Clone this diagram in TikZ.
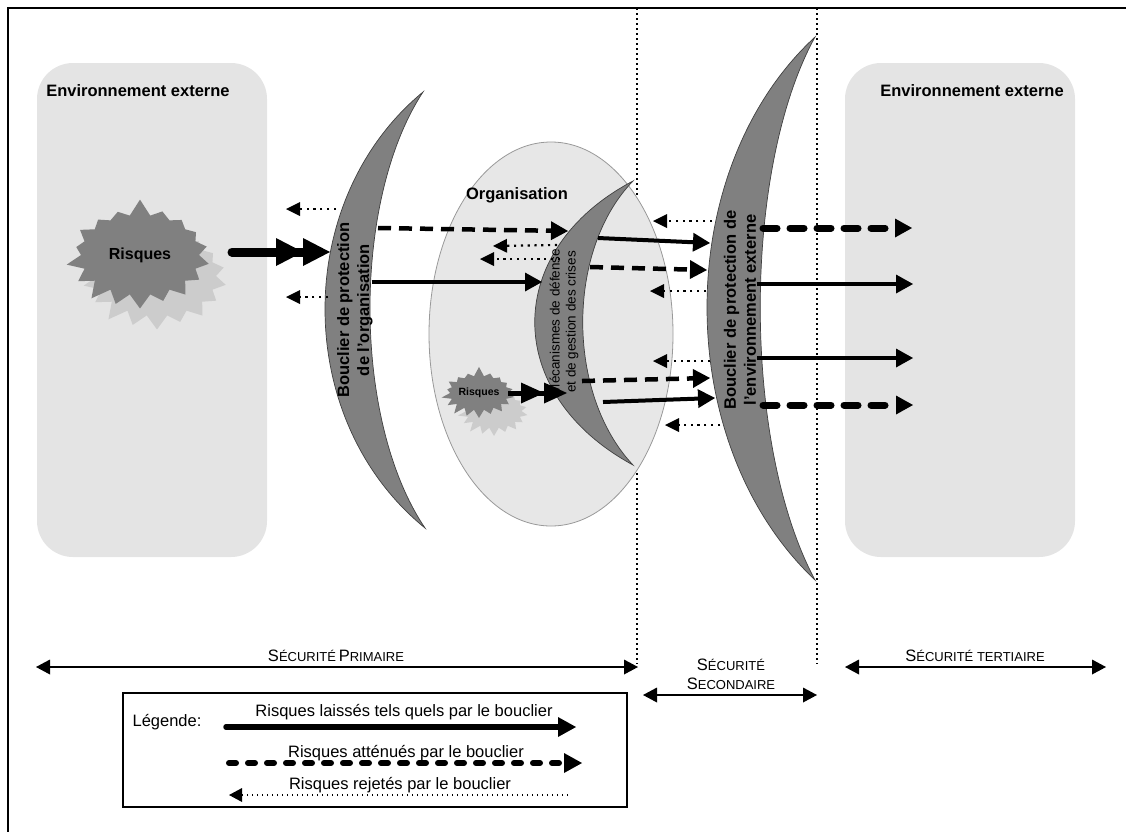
\documentclass[tikz,border=0pt]{standalone}
\usepackage{fontspec}
\setmainfont{Liberation Sans}
\usetikzlibrary{arrows.meta,shapes.symbols,shapes.geometric}

\definecolor{panelgray}{gray}{0.895}
\definecolor{orggray}{gray}{0.905}
\definecolor{shieldgray}{gray}{0.5}
\definecolor{shadowgray}{gray}{0.80}

% small capitals imitated with two sizes of the same font
\newcommand\capword[2]{{\fontsize{16.5}{19}\selectfont #1}{\fontsize{13}{15}\selectfont #2}}

\begin{document}
\begin{tikzpicture}[x=1pt,y=-1pt,
  panel/.style={fill=panelgray, rounded corners=36pt},
  shield/.style={fill=shieldgray, draw=black!75, line width=0.7pt},
  boldlbl/.style={font=\fontsize{16.5}{20}\selectfont\bfseries, inner sep=0pt, align=center},
  plainlbl/.style={font=\fontsize{16.5}{20}\selectfont, inner sep=0pt},
  zonelbl/.style={inner sep=0pt, anchor=base},
  zoneline/.style={line width=1.5pt, dash pattern=on 1.5pt off 3.5pt},
  burst/.style={starburst, starburst points=18, random starburst=7, fill=shieldgray, inner sep=0pt},
  burstshadow/.style={burst, fill=shadowgray},
  Pass/.tip={Triangle[length=17pt,width=19pt,line width=0pt]},
  Rej/.tip={Triangle[length=14pt,width=14pt,line width=0pt]},
  BigTwo/.tip={Triangle[length=27pt,width=28pt,line width=0pt] Triangle[length=27pt,width=28pt,line width=0pt]},
  MidTwo/.tip={Triangle[length=23pt,width=21pt,line width=0pt] Triangle[length=23pt,width=21pt,line width=0pt]},
  Bnd/.tip={Triangle[length=14pt,width=15pt,line width=0pt]},
  passed/.style={line width=4pt, -{Pass}},
  damped/.style={line width=4.5pt, dash pattern=on 13pt off 8pt, -{Pass}},
  dampedwide/.style={line width=7pt, line cap=round, dash pattern=on 14pt off 13pt, -{Pass}},
  rejected/.style={line width=2.2pt, dash pattern=on 2.2pt off 4.6pt, -{Rej}},
  riskflow/.style={line width=9pt, line cap=round, -{BigTwo}},
  smallflow/.style={line width=5pt, -{MidTwo}},
  span/.style={line width=2.4pt, {Bnd}-{Bnd}}
]
\useasboundingbox (0,0) rectangle (1126,831);

% page frame (left and top edges)
\draw[line width=1.3pt] (8,845) -- (8,8) -- (1140,8);

% limits between the security zones
\coordinate (lim1top) at (637,8);  \coordinate (lim1bot) at (637,664);
\coordinate (lim2top) at (817,8);  \coordinate (lim2bot) at (817,664);
\draw[zoneline] (lim1top) -- (lim1bot);
\draw[zoneline] (lim2top) -- (lim2bot);

% external environment on both sides
\fill[panel] (37,63) rectangle (267,557);
\fill[panel] (845,63) rectangle (1075,557);
\node[boldlbl, anchor=base] (envL) at (138,96) {Environnement externe};
\node[boldlbl, anchor=base] (envR) at (972,96) {Environnement externe};

% the organisation
\node[ellipse, draw=black!40, line width=0.8pt, fill=orggray,
      minimum width=244pt, minimum height=384pt, inner sep=0pt] (org) at (551,334) {};
\node[boldlbl, anchor=base] (orgLbl) at (517,199) {Organisation};

% shield of the organisation
\path[shield] (423,92) .. controls (292,200) and (292,420) .. (425,528)
              .. controls (352,420) and (352,200) .. (423,92) -- cycle;
\node[boldlbl, rotate=90] (shieldOrg) at (355,310) {Bouclier de protection\\de l'organisation};

% defence and crisis management mechanisms
\path[shield] (633,181) .. controls (502,250) and (502,394) .. (633,465)
              .. controls (566,394) and (566,250) .. (633,181) -- cycle;
\node[font=\fontsize{13.5}{16}\selectfont, inner sep=0pt, align=center, rotate=90]
      (mecha) at (564,322) {Mécanismes de défense\\et de gestion des crises};

% shield of the external environment
\path[shield] (815,37) .. controls (671,170) and (671,444) .. (815,580)
              .. controls (742,444) and (742,170) .. (815,37) -- cycle;
\node[boldlbl, rotate=90] (shieldEnv) at (740,310) {Bouclier de protection de\\l'environnement externe};

% risks
\node[burstshadow, minimum width=152pt, minimum height=114pt, starburst point height=17pt] (riskAsh) at (157,276) {};
\node[burst, minimum width=152pt, minimum height=114pt, starburst point height=17pt,
      font=\fontsize{16}{19}\selectfont\bfseries] (riskA) at (140,255) {Risques};
\node[burstshadow, minimum width=75pt, minimum height=54pt, starburst point height=10pt] (riskBsh) at (494,411) {};
\node[burst, minimum width=75pt, minimum height=54pt, starburst point height=10pt,
      font=\fontsize{10.5}{12}\selectfont\bfseries] (riskB) at (479,393) {Risques};

% end points of the flows
\coordinate (fA) at (232,252);  \coordinate (sA) at (330,252);
\coordinate (fB) at (508,393);  \coordinate (sB) at (567,393);

\coordinate (r1s) at (336,209); \coordinate (r1e) at (286,209);
\coordinate (r2s) at (328,297); \coordinate (r2e) at (286,297);
\coordinate (d1s) at (378,228); \coordinate (d1e) at (568,231);
\coordinate (p1s) at (372,282); \coordinate (p1e) at (542,282);

\coordinate (r3s) at (557,245); \coordinate (r3e) at (493,246);
\coordinate (r4s) at (560,259); \coordinate (r4e) at (480,259);
\coordinate (p2s) at (598,238); \coordinate (p2e) at (710,243);
\coordinate (d2s) at (590,267); \coordinate (d2e) at (707,270);
\coordinate (r5s) at (712,221); \coordinate (r5e) at (653,221);
\coordinate (r6s) at (706,291); \coordinate (r6e) at (650,291);
\coordinate (r7s) at (710,361); \coordinate (r7e) at (653,361);
\coordinate (d3s) at (582,381); \coordinate (d3e) at (710,378);
\coordinate (p3s) at (603,402); \coordinate (p3e) at (715,398);
\coordinate (r8s) at (720,425); \coordinate (r8e) at (665,425);

\coordinate (d4s) at (763,228); \coordinate (d4e) at (912,228);
\coordinate (p4s) at (757,284); \coordinate (p4e) at (913,284);
\coordinate (p5s) at (757,358); \coordinate (p5e) at (913,358);
\coordinate (d5s) at (763,405); \coordinate (d5e) at (913,405);

% flows
\draw[riskflow] (fA) -- (sA);
\draw[smallflow] (fB) -- (sB);

\draw[rejected] (r1s) -- (r1e);
\draw[rejected] (r2s) -- (r2e);
\draw[damped] (d1s) -- (d1e);
\draw[passed] (p1s) -- (p1e);

\draw[rejected] (r3s) -- (r3e);
\draw[rejected] (r4s) -- (r4e);
\draw[passed] (p2s) -- (p2e);
\draw[damped] (d2s) -- (d2e);
\draw[rejected] (r5s) -- (r5e);
\draw[rejected] (r6s) -- (r6e);
\draw[rejected] (r7s) -- (r7e);
\draw[damped] (d3s) -- (d3e);
\draw[passed] (p3s) -- (p3e);
\draw[rejected] (r8s) -- (r8e);

\draw[dampedwide] (d4s) -- (d4e);
\draw[passed] (p4s) -- (p4e);
\draw[passed] (p5s) -- (p5e);
\draw[dampedwide] (d5s) -- (d5e);

% security zones
\coordinate (z1a) at (36,667);  \coordinate (z1b) at (638,667);
\coordinate (z2a) at (643,695); \coordinate (z2b) at (817,695);
\coordinate (z3a) at (845,667); \coordinate (z3b) at (1106,667);
\draw[span] (z1a) -- (z1b);
\draw[span] (z2a) -- (z2b);
\draw[span] (z3a) -- (z3b);
\node[zonelbl] (zone1) at (336,661) {\capword{S}{ÉCURITÉ} \capword{P}{RIMAIRE}};
\node[zonelbl] (zone2a) at (731,670) {\capword{S}{ÉCURITÉ}};
\node[zonelbl] (zone2b) at (731,689) {\capword{S}{ECONDAIRE}};
\node[zonelbl] (zone3) at (975,661) {\capword{S}{ÉCURITÉ TERTIAIRE}};

% legend
\node[draw, line width=1.3pt, minimum width=504pt, minimum height=114pt, inner sep=0pt] (legend) at (375,750) {};
\node[plainlbl, anchor=base] (lgTitle) at (167,726) {Légende:};
\node[plainlbl, anchor=base] (lgText1) at (404,716) {Risques laissés tels quels par le bouclier};
\node[plainlbl, anchor=base] (lgText2) at (406,757) {Risques atténués par le bouclier};
\node[plainlbl, anchor=base] (lgText3) at (400,789) {Risques rejetés par le bouclier};
\coordinate (lg1s) at (226,727); \coordinate (lg1e) at (576,727);
\coordinate (lg2s) at (229,763); \coordinate (lg2e) at (582,763);
\coordinate (lg3s) at (568,795); \coordinate (lg3e) at (229,795);
\draw[line width=5.5pt, line cap=round, -{Triangle[length=18pt,width=20pt,line width=0pt]}] (lg1s) -- (lg1e);
\draw[line width=6pt, line cap=round, dash pattern=on 7pt off 12pt, -{Triangle[length=18pt,width=20pt,line width=0pt]}] (lg2s) -- (lg2e);
\draw[line width=1.5pt, dash pattern=on 1.5pt off 3.5pt, -{Triangle[length=13pt,width=14pt,line width=0pt]}] (lg3s) -- (lg3e);
\end{tikzpicture}
\end{document}
